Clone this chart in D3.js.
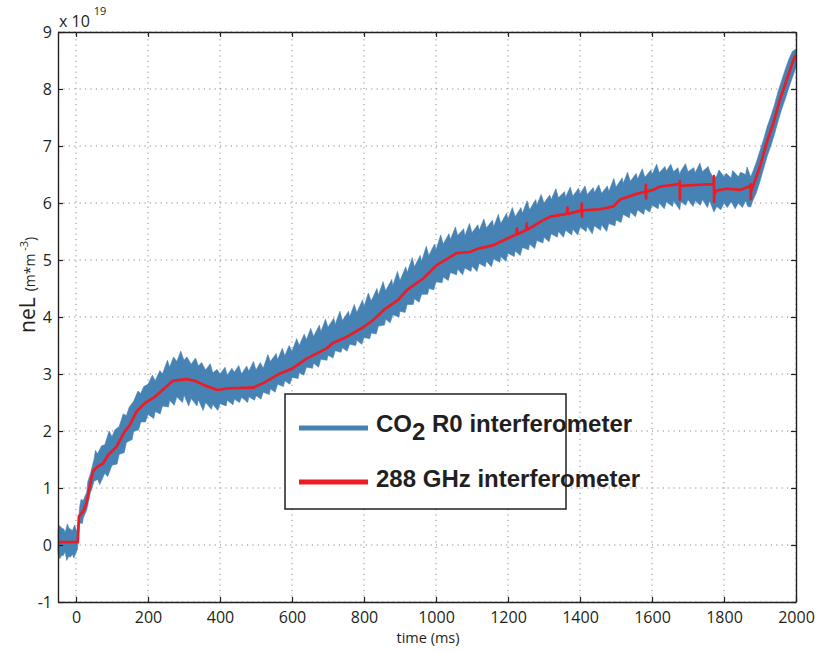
<!DOCTYPE html>
<html>
<head>
<meta charset="utf-8">
<script src="https://cdn.jsdelivr.net/npm/d3@7"></script>
<style>
  body { margin: 0; background: #fff; }
</style>
</head>
<body>
<svg id="chart" width="817" height="651"></svg>
<script>
// ---- axis ticks ----
const xTicks = [0, 200, 400, 600, 800, 1000, 1200, 1400, 1600, 1800, 2000];
const yTicks = [-1, 0, 1, 2, 3, 4, 5, 6, 7, 8, 9];

// ---- 288 GHz interferometer (units of 1e19 m^-2) ----
const redTime = [-50, 5, 8, 19, 29, 38, 47, 59, 75, 89, 112, 135, 149, 168, 191, 219, 246, 269, 306, 330,
  357, 394, 422, 492, 520, 567, 599, 641, 696, 715, 752, 798, 826, 854, 895, 919, 965, 1002, 1057, 1094,
  1118, 1159, 1206, 1224, 1225, 1226, 1251, 1252, 1253, 1298, 1317, 1364, 1365, 1366, 1404, 1405, 1405.5, 1406,
  1456, 1493, 1511, 1557, 1582, 1583, 1583.5, 1584, 1604, 1622, 1676, 1677, 1677.5, 1678, 1733, 1770,
  1771, 1772, 1772.5, 1773, 1780, 1807, 1844, 1873, 1874, 1874.5, 1875, 1882, 1900, 1918, 1937, 1955,
  1974, 1993, 2000];
const redValue = [0.05, 0.05, 0.5, 0.58, 0.73, 1.02, 1.29, 1.37, 1.43, 1.58, 1.72, 1.99, 2.1, 2.34, 2.49, 2.6, 2.75, 2.88, 2.91, 2.88,
  2.8, 2.72, 2.75, 2.76, 2.84, 3.01, 3.09, 3.27, 3.45, 3.55, 3.65, 3.82, 3.95, 4.12, 4.3, 4.47, 4.68, 4.91, 5.12, 5.14,
  5.2, 5.26, 5.4, 5.45, 5.55, 5.45, 5.53, 5.64, 5.53, 5.7, 5.76, 5.81, 5.92, 5.81, 5.87, 5.99, 5.76, 5.87,
  5.89, 5.94, 6.06, 6.16, 6.2, 6.32, 6.08, 6.2, 6.23, 6.29, 6.33, 6.38, 6.06, 6.3, 6.32, 6.33,
  6.34, 6.47, 6.02, 6.15, 6.22, 6.25, 6.23, 6.3, 6.33, 6.07, 6.2, 6.32, 6.64, 7.05, 7.4, 7.81,
  8.16, 8.51, 8.6];

// ---- CO2 R0 interferometer: envelope of the fast-fluctuating signal ----
const blueTime = [-50, -40, -30, -20, -10, 0, 4, 10, 20, 30, 40, 50, 60, 80, 100, 120, 140, 160, 180, 200,
  220, 240, 260, 280, 300, 320, 340, 360, 380, 400, 420, 440, 460, 480, 500, 520, 540, 560, 580, 600,
  620, 640, 660, 680, 700, 720, 740, 760, 780, 800, 820, 840, 860, 880, 900, 920, 940, 960, 980, 1000,
  1020, 1040, 1060, 1080, 1100, 1120, 1140, 1160, 1180, 1200, 1220, 1240, 1260, 1280, 1300, 1320, 1340, 1360, 1380, 1400,
  1420, 1440, 1460, 1480, 1500, 1520, 1540, 1560, 1580, 1600, 1620, 1640, 1660, 1677, 1680, 1700, 1720, 1740, 1760, 1772,
  1780, 1800, 1820, 1840, 1860, 1874, 1880, 1890, 1900, 1910, 1920, 1930, 1940, 1950, 1960, 1970, 1980, 1990, 2000];
const blueHigh = [0.25, 0.3, 0.22, 0.3, 0.25, 0.28, 0.22, 0.66, 0.78, 0.93, 1.25, 1.5, 1.6, 1.76, 1.9, 2.08, 2.27, 2.52, 2.66, 2.82,
  2.88, 3.0, 3.12, 3.22, 3.24, 3.17, 3.14, 3.07, 3.02, 3.0, 2.98, 3.03, 3.0, 3.05, 3.07, 3.1, 3.22, 3.25, 3.32, 3.4,
  3.5, 3.6, 3.66, 3.74, 3.82, 3.87, 3.94, 4.0, 4.08, 4.18, 4.28, 4.38, 4.46, 4.55, 4.64, 4.78, 4.88, 4.98, 5.08, 5.18,
  5.28, 5.36, 5.43, 5.42, 5.48, 5.52, 5.56, 5.58, 5.64, 5.72, 5.76, 5.82, 5.88, 5.96, 6.0, 6.06, 6.09, 6.1, 6.12, 6.16,
  6.15, 6.18, 6.17, 6.2, 6.28, 6.34, 6.38, 6.42, 6.45, 6.5, 6.53, 6.56, 6.55, 6.5, 6.56, 6.55, 6.53, 6.55, 6.56, 6.42,
  6.48, 6.46, 6.44, 6.46, 6.5, 6.46, 6.55, 6.72, 6.92, 7.12, 7.34, 7.52, 7.72, 7.95, 8.15, 8.34, 8.52, 8.66, 8.7];
const blueLow = [-0.15, -0.18, -0.12, -0.2, -0.16, -0.13, -0.08, 0.38, 0.47, 0.62, 0.92, 1.12, 1.15, 1.26, 1.4, 1.59, 1.8, 1.99, 2.16, 2.29,
  2.34, 2.44, 2.54, 2.6, 2.63, 2.57, 2.55, 2.5, 2.47, 2.48, 2.54, 2.56, 2.59, 2.6, 2.62, 2.68, 2.74, 2.82, 2.88, 2.94,
  3.02, 3.12, 3.19, 3.26, 3.33, 3.41, 3.46, 3.52, 3.59, 3.64, 3.72, 3.84, 3.96, 4.04, 4.1, 4.22, 4.32, 4.4, 4.5, 4.62,
  4.7, 4.78, 4.84, 4.86, 4.89, 4.94, 4.98, 5.02, 5.06, 5.12, 5.16, 5.22, 5.28, 5.34, 5.4, 5.46, 5.5, 5.52, 5.54, 5.58,
  5.59, 5.6, 5.62, 5.64, 5.7, 5.8, 5.84, 5.88, 5.9, 5.96, 6.0, 6.02, 6.04, 5.88, 6.02, 6.06, 6.04, 6.06, 6.04, 5.84,
  5.94, 6.0, 6.02, 6.0, 6.04, 5.93, 6.04, 6.18, 6.38, 6.6, 6.82, 7.0, 7.2, 7.43, 7.64, 7.82, 8.02, 8.2, 8.38];

// individual excursions of the CO2 signal above / below its envelope
const peakTime = [-46, -34, -24, -14, -4, 14, 33, 54, 71, 92, 108, 131, 148, 172, 188, 212, 233, 254, 271, 291,
  308, 332, 349, 373, 392, 414, 433, 452, 474, 493, 512, 533, 556, 573, 592, 613, 634, 652, 676, 693,
  716, 733, 757, 773, 796, 812, 836, 853, 877, 893, 916, 934, 956, 973, 996, 1013, 1036, 1054, 1077, 1093,
  1116, 1133, 1157, 1173, 1196, 1212, 1236, 1253, 1277, 1292, 1316, 1333, 1357, 1373, 1396, 1414, 1437, 1452, 1476, 1494,
  1517, 1532, 1556, 1573, 1597, 1613, 1636, 1652, 1672, 1693, 1716, 1733, 1756, 1786, 1806, 1824, 1846, 1864];
const peakValue = [0.34, 0.28, 0.37, 0.27, 0.35, 0.8, 1.12, 1.66, 1.74, 2.0, 2.02, 2.3, 2.42, 2.7, 2.78, 2.98, 3.06, 3.24, 3.3, 3.4,
  3.3, 3.28, 3.2, 3.18, 3.08, 3.12, 3.1, 3.15, 3.14, 3.22, 3.2, 3.34, 3.36, 3.45, 3.5, 3.62, 3.7, 3.8, 3.86, 3.96,
  3.98, 4.1, 4.1, 4.22, 4.3, 4.42, 4.5, 4.62, 4.66, 4.8, 4.88, 5.04, 5.08, 5.24, 5.28, 5.44, 5.46, 5.58, 5.55, 5.64,
  5.62, 5.72, 5.7, 5.8, 5.82, 5.92, 5.92, 6.04, 6.06, 6.15, 6.14, 6.25, 6.2, 6.28, 6.26, 6.3, 6.27, 6.32, 6.3, 6.43,
  6.44, 6.54, 6.52, 6.6, 6.58, 6.68, 6.64, 6.68, 6.62, 6.69, 6.62, 6.7, 6.64, 6.58, 6.52, 6.57, 6.54, 6.63];
const dipTime = [-45, -36, -26, -15, -6, 18, 44, 66, 88, 114, 134, 156, 174, 193, 216, 234, 257, 273, 296, 313,
  336, 353, 376, 394, 417, 436, 454, 477, 496, 514, 537, 553, 576, 594, 617, 633, 657, 674, 697, 714,
  736, 753, 777, 794, 816, 834, 857, 873, 897, 914, 937, 953, 977, 994, 1017, 1034, 1057, 1074, 1097, 1114,
  1137, 1154, 1177, 1194, 1217, 1234, 1257, 1274, 1297, 1314, 1337, 1354, 1377, 1394, 1417, 1434, 1457, 1474, 1497, 1514,
  1537, 1554, 1577, 1594, 1617, 1634, 1657, 1694, 1714, 1734, 1754, 1791, 1809, 1831, 1851, 1866];
const dipValue = [-0.24, -0.19, -0.27, -0.21, -0.23, 0.38, 0.98, 1.06, 1.2, 1.42, 1.62, 1.85, 2.02, 2.16, 2.22, 2.3, 2.42, 2.45, 2.5, 2.44,
  2.44, 2.36, 2.38, 2.36, 2.44, 2.46, 2.5, 2.5, 2.54, 2.56, 2.64, 2.68, 2.78, 2.82, 2.92, 2.98, 3.1, 3.12, 3.24, 3.28,
  3.38, 3.4, 3.5, 3.52, 3.62, 3.7, 3.86, 3.9, 4.0, 4.08, 4.22, 4.26, 4.4, 4.48, 4.6, 4.64, 4.74, 4.74, 4.8, 4.8,
  4.88, 4.88, 4.96, 4.98, 5.06, 5.08, 5.18, 5.2, 5.3, 5.32, 5.4, 5.4, 5.44, 5.44, 5.5, 5.46, 5.52, 5.5, 5.6, 5.66,
  5.74, 5.76, 5.8, 5.84, 5.9, 5.9, 5.94, 5.96, 5.94, 5.96, 5.92, 5.88, 5.92, 5.9, 5.92, 5.94];

const legendLabels = ["CO", "2", " R0 interferometer", "288 GHz interferometer"];

const blueColor = "#4682b4";
const redColor = "#ed1c24";
const ink = "#231f20";
const tickFont = "'Open Sans', 'DejaVu Sans', sans-serif";
const legendFont = "'Liberation Sans', Arial, sans-serif";

const svg = d3.select("#chart");
const x = d3.scaleLinear().domain([-50, 2000]).range([58, 796]);
const y = d3.scaleLinear().domain([-1, 9]).range([602, 32]);
const [x0, x1] = x.range();
const [y0, y1] = y.range();

// dotted grid
const grid = svg.append("g").attr("stroke", "#8a8a8a").attr("stroke-width", 1)
  .attr("stroke-dasharray", "1.2,4.2");
grid.selectAll("line.vx").data(xTicks).join("line")
  .attr("x1", d => x(d)).attr("x2", d => x(d)).attr("y1", y0).attr("y2", y1);
grid.selectAll("line.hy").data(yTicks).join("line")
  .attr("x1", x0).attr("x2", x1).attr("y1", d => y(d)).attr("y2", d => y(d));

// CO2 signal: upper edge (envelope + peaks) forward, lower edge (envelope + dips) back
const pairs = (ts, vs) => ts.map((t, i) => ({ t, v: vs[i] }));
const upper = pairs(blueTime, blueHigh).concat(pairs(peakTime, peakValue)).sort((a, b) => a.t - b.t);
const lower = pairs(blueTime, blueLow).concat(pairs(dipTime, dipValue)).sort((a, b) => b.t - a.t);
const edge = d3.line().x(d => x(d.t)).y(d => y(d.v));
svg.append("path")
  .attr("d", edge(upper.concat(lower)) + "Z")
  .attr("fill", blueColor).attr("stroke", blueColor).attr("stroke-width", 0.6)
  .attr("stroke-linejoin", "miter");

// 288 GHz trace
svg.append("path").datum(pairs(redTime, redValue))
  .attr("d", edge)
  .attr("fill", "none").attr("stroke", redColor).attr("stroke-width", 2.7)
  .attr("stroke-linejoin", "round");

// axes with inward ticks on all four sides
const fmt = d => String(d);
const axB = svg.append("g").attr("transform", `translate(0,${y0})`)
  .call(d3.axisBottom(x).tickValues(xTicks).tickFormat(fmt).tickSize(-5).tickSizeOuter(0).tickPadding(9.5));
const axT = svg.append("g").attr("transform", `translate(0,${y1})`)
  .call(d3.axisTop(x).tickValues(xTicks).tickFormat("").tickSize(-5).tickSizeOuter(0));
const axL = svg.append("g").attr("transform", `translate(${x0},0)`)
  .call(d3.axisLeft(y).tickValues(yTicks).tickFormat(fmt).tickSize(-5).tickSizeOuter(0).tickPadding(6));
const axR = svg.append("g").attr("transform", `translate(${x1},0)`)
  .call(d3.axisRight(y).tickValues(yTicks).tickFormat("").tickSize(-5).tickSizeOuter(0));
[axB, axT, axL, axR].forEach(g => {
  g.selectAll("path.domain").attr("stroke", ink).attr("stroke-width", 1.4);
  g.selectAll(".tick line").attr("stroke", ink).attr("stroke-width", 1.2);
  g.selectAll("text").style("font-size", "16px").style("fill", ink).style("font-family", tickFont);
});

// exponent note
const expo = svg.append("text").attr("x", 59).attr("y", 27)
  .style("font-family", tickFont).style("font-size", "16px").style("fill", ink);
expo.append("tspan").text("x 10");
expo.append("tspan").attr("dx", 4).attr("dy", -12).style("font-size", "11px").text("19");

// axis titles
svg.append("text").attr("x", 428).attr("y", 643).attr("text-anchor", "middle")
  .style("font-family", tickFont).style("font-size", "14.5px").style("fill", ink).text("time (ms)");
const yl = svg.append("text").attr("transform", "translate(35,333) rotate(-90)")
  .style("font-family", tickFont).style("font-size", "21px").style("fill", ink);
yl.append("tspan").text("neL");
yl.append("tspan").style("font-size", "14px").attr("dx", 6).text("(m*m");
yl.append("tspan").style("font-size", "11px").attr("dy", -7).text(" -3");
yl.append("tspan").style("font-size", "14px").attr("dy", 7).text(")");

// legend
const lg = svg.append("g");
lg.append("rect").attr("x", 285).attr("y", 394).attr("width", 281).attr("height", 115)
  .attr("fill", "#fff").attr("stroke", ink).attr("stroke-width", 1.5);
lg.append("line").attr("x1", 299).attr("x2", 368).attr("y1", 428).attr("y2", 428)
  .attr("stroke", blueColor).attr("stroke-width", 5);
lg.append("line").attr("x1", 299).attr("x2", 368).attr("y1", 482).attr("y2", 482)
  .attr("stroke", redColor).attr("stroke-width", 5);
const t1 = lg.append("text").attr("x", 376).attr("y", 432)
  .style("font-family", legendFont).style("font-weight", "bold").style("font-size", "24px").style("fill", ink);
t1.append("tspan").text(legendLabels[0]);
t1.append("tspan").attr("dy", 8).text(legendLabels[1]);
t1.append("tspan").attr("dy", -8).text(legendLabels[2]);
lg.append("text").attr("x", 376).attr("y", 487)
  .style("font-family", legendFont).style("font-weight", "bold").style("font-size", "24px").style("fill", ink)
  .text(legendLabels[3]);
</script>
</body>
</html>
